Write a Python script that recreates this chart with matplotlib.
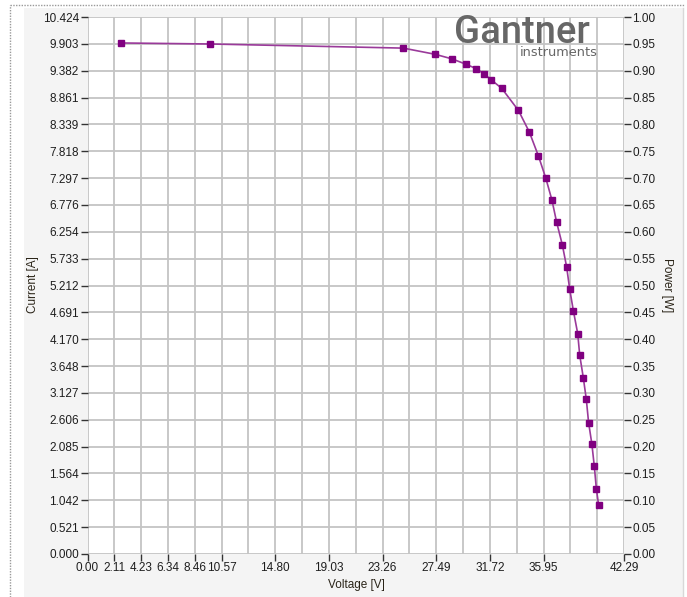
import matplotlib
matplotlib.use("Agg")
import matplotlib.pyplot as plt
from matplotlib.patches import Rectangle
from matplotlib.lines import Line2D
import numpy as np

plt.rcParams['font.family'] = ['Liberation Sans', 'DejaVu Sans']

# Data
voltage = [2.65, 9.67, 24.9, 27.4, 28.75, 29.8, 30.66, 31.26, 31.79, 32.65,
           33.97, 34.83, 35.54, 36.12, 36.61, 36.98, 37.43, 37.77, 38.01, 38.30,
           38.64, 38.80, 39.09, 39.32, 39.50, 39.76, 39.95, 40.11, 40.29]
current = [9.92, 9.90, 9.82, 9.70, 9.61, 9.51, 9.42, 9.32, 9.21, 9.04,
           8.61, 8.19, 7.73, 7.30, 6.87, 6.44, 6.00, 5.57, 5.14, 4.72,
           4.28, 3.86, 3.41, 3.00, 2.55, 2.13, 1.70, 1.27, 0.95]

x_max = 42.29
y_max = 10.424
p_max = 1.00
x_tick_labels = ["0.00", "2.11", "4.23", "6.34", "8.46", "10.57", "14.80",
                 "19.03", "23.26", "27.49", "31.72", "35.95", "42.29"]
y_tick_labels = ["0.000", "0.521", "1.042", "1.564", "2.085", "2.606", "3.127",
                 "3.648", "4.170", "4.691", "5.212", "5.733", "6.254", "6.776",
                 "7.297", "7.818", "8.339", "8.861", "9.382", "9.903", "10.424"]
p_tick_labels = ["%.2f" % (i * 0.05) for i in range(21)]

W, H = 687, 597
fig = plt.figure(figsize=(W / 100, H / 100), dpi=100, facecolor='white')

# background panel and dotted frame
fig.patches.append(Rectangle((24 / W, 0), (683 - 24) / W, 1 - 8 / H,
                             transform=fig.transFigure, facecolor='#f4f4f4',
                             edgecolor='none', zorder=-10))
fig.lines.append(Line2D([10 / W, 10 / W], [0, 1 - 5 / H], transform=fig.transFigure,
                        color='#9a9a9a', lw=1, ls=(0, (1, 1)), zorder=-5))
fig.lines.append(Line2D([10 / W, 685 / W], [1 - 5 / H, 1 - 5 / H], transform=fig.transFigure,
                        color='#9a9a9a', lw=1, ls=(0, (1, 1)), zorder=-5))
fig.lines.append(Line2D([683 / W, 683 / W], [0, 1 - 8 / H], transform=fig.transFigure,
                        color='#d8d8d8', lw=1, zorder=-5))

left, right = 87.5 / W, 624 / W
top, bottom = 1 - 17 / H, 1 - 554 / H
ax = fig.add_axes([left, bottom, right - left, top - bottom])
ax.set_facecolor('white')
ax.set_xlim(0, x_max)
ax.set_ylim(0, y_max)

# grid
step_x = x_max / 20
step_y = y_max / 20
for i in range(21):
    ax.axvline(i * step_x, color='#c4c4c4', lw=1.3, zorder=1)
    ax.axhline(i * step_y, color='#c4c4c4', lw=1.3, zorder=1)

label_idx = [0, 1, 2, 3, 4, 5, 7, 9, 11, 13, 15, 17, 20]
ax.set_xticks([i * step_x for i in label_idx])
ax.set_xticklabels(x_tick_labels)
ax.set_yticks([i * step_y for i in range(21)])
ax.set_yticklabels(y_tick_labels)
for s in ax.spines.values():
    s.set_visible(False)
ax.tick_params(axis='both', direction='out', length=5, width=1, color='#333333',
               labelsize=8.5, labelcolor='#1e1e1e', pad=1)

ax.plot(voltage, current, color='#9a3a9a', lw=1.2, zorder=3)
ax.plot(voltage, current, ls='none', marker='s', ms=4.4, color='#800080',
        mec='#800080', zorder=4)

ax2 = ax.twinx()
ax2.set_ylim(0, p_max)
ax2.set_yticks([i * 0.05 for i in range(21)])
ax2.set_yticklabels(p_tick_labels)
for s in ax2.spines.values():
    s.set_visible(False)
ax2.tick_params(axis='y', direction='out', length=5, width=1, color='#333333',
                labelsize=8.5, labelcolor='#1e1e1e', pad=1)

fig.text(356 / W, 1 - 585 / H, "Voltage [V]", ha='center', va='center',
         fontsize=8.5, color='#2a2418')
fig.text(33 / W, 1 - 285 / H, "Current [A]", ha='center', va='center',
         rotation=90, fontsize=8.5, color='#2a2418')
fig.text(667 / W, 1 - 285 / H, "Power [W]", ha='center', va='center',
         rotation=270, fontsize=8.5, color='#2a2418')

# logo
fig.text(590 / W, 1 - 43 / H, "Gantner", ha='right', va='baseline',
         fontsize=27.5, color='#666666', zorder=10,
         family=['Roboto', 'Liberation Sans'], fontweight='medium')
fig.text(598 / W, 1 - 56 / H, "instruments", ha='right', va='baseline',
         fontsize=9.3, color='#666666', zorder=10, family='DejaVu Sans')

fig.savefig("out.png", dpi=100, facecolor=fig.get_facecolor())
